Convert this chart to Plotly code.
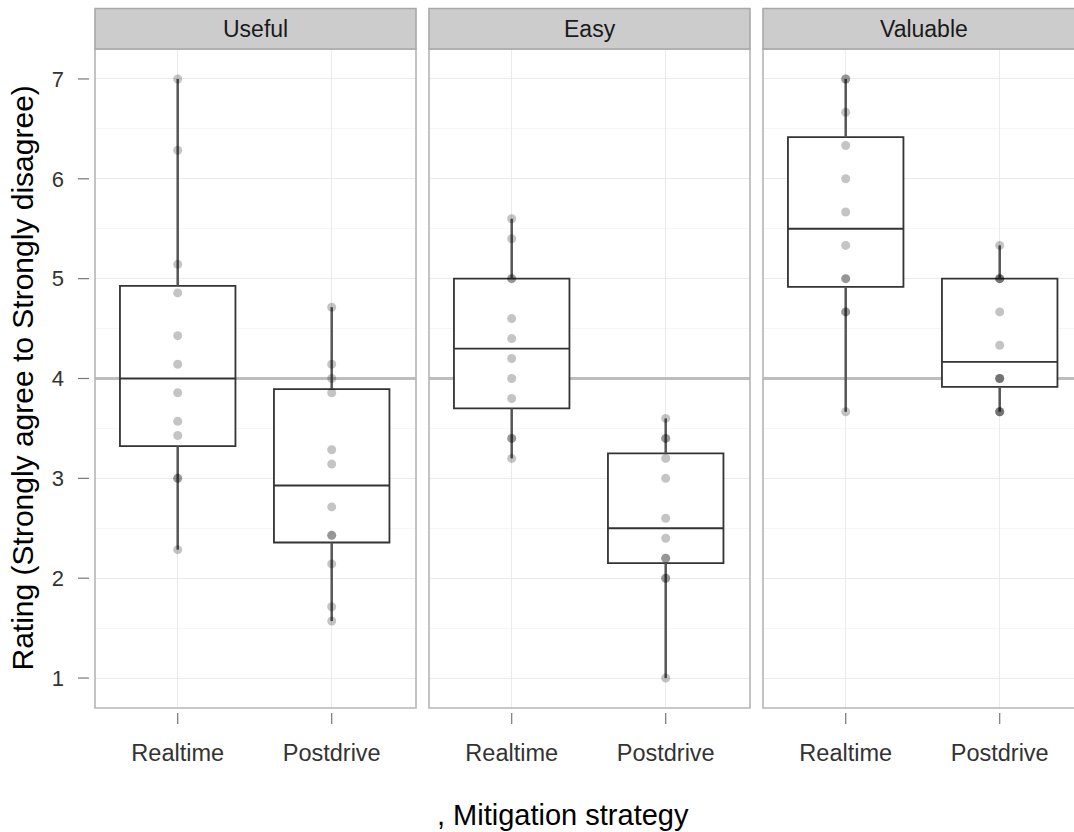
import numpy as np
import plotly.graph_objects as go

# Ratings per facet and mitigation strategy (1 = strongly agree ... 7 = strongly disagree)
facets = ["Useful", "Easy", "Valuable"]
strategies = ["Realtime", "Postdrive"]

useful_realtime = [7.0, 6.286, 5.143, 4.857, 4.429, 4.143, 3.857, 3.571, 3.429, 3.0, 3.0, 2.286]
useful_postdrive = [4.714, 4.143, 4.0, 3.857, 3.286, 3.143, 2.714, 2.429, 2.429, 2.143, 1.714, 1.571]
easy_realtime = [5.6, 5.4, 5.0, 5.0, 4.6, 4.4, 4.2, 4.0, 3.8, 3.4, 3.4, 3.2]
easy_postdrive = [3.6, 3.4, 3.4, 3.2, 3.0, 2.6, 2.4, 2.2, 2.2, 2.0, 2.0, 1.0]
valuable_realtime = [7.0, 7.0, 6.667, 6.333, 6.0, 5.667, 5.333, 5.0, 5.0, 4.667, 4.667, 3.667]
valuable_postdrive = [5.333, 5.0, 5.0, 5.0, 4.667, 4.333, 4.0, 4.0, 4.0, 3.667, 3.667, 3.667]

y_ticks = [1, 2, 3, 4, 5, 6, 7]
neutral_level = 4

y_title = "Rating (Strongly agree to Strongly disagree)"
x_title = ", Mitigation strategy"

ratings = {
    "Useful": {"Realtime": useful_realtime, "Postdrive": useful_postdrive},
    "Easy": {"Realtime": easy_realtime, "Postdrive": easy_postdrive},
    "Valuable": {"Realtime": valuable_realtime, "Postdrive": valuable_postdrive},
}

# ---- layout geometry (pixels) ----
W, H = 1074, 832
ML, MT, MB = 95, 49, 124
PLOT_W = W - ML
PLOT_H = H - MT - MB
PANEL_W = 321
panel_left = [95, 429, 763]
PX_PER_CAT = 154.0
LEFT_PAD = 82.7
Y_RANGE = [0.7, 7.3]

FONT = "Liberation Sans, Arial, Helvetica, sans-serif"
BOX_LINE = "#333333"
WHISKER = "#555555"
BORDER = "#b5b5b5"
GRID = "#ebebeb"
GRID_MINOR = "#f6f6f6"

positions = list(range(len(strategies)))  # discrete slots on each panel's x axis


def box_stats(values):
    v = np.sort(np.asarray(values, dtype=float))
    q1, med, q3 = np.percentile(v, [25, 50, 75])
    iqr = q3 - q1
    lo = v[v >= q1 - 1.5 * iqr].min()
    hi = v[v <= q3 + 1.5 * iqr].max()
    return q1, med, q3, lo, hi


fig = go.Figure()
shapes = []
annotations = []
n_f = len(facets)

for i, facet in enumerate(facets):
    n = "" if i == 0 else str(i + 1)
    xa, ya = "x" + n, "y" + n
    # overlay y axis: boxes and points sit in a layer above the reference line
    top_n = str(i + 1 + n_f)
    ya_top = "y" + top_n

    x0px = panel_left[i]
    x1px = min(x0px + PANEL_W, W)
    vis_w = x1px - x0px
    dom = [(x0px - ML) / PLOT_W, (x1px - ML) / PLOT_W]
    r0 = -LEFT_PAD / PX_PER_CAT
    r1 = (vis_w - LEFT_PAD) / PX_PER_CAT
    r_full = (PANEL_W - LEFT_PAD) / PX_PER_CAT
    full = PANEL_W / vis_w

    fig.update_layout(**{
        ("xaxis" + n): dict(
            domain=dom, range=[r0, r1], tickvals=positions, ticktext=strategies,
            showgrid=True, gridcolor=GRID, gridwidth=1,
            showline=False, zeroline=False, ticks="", anchor=ya,
            tickfont=dict(family=FONT, size=23.5, color="#333333"),
            ticklabelstandoff=28,
        ),
        ("yaxis" + n): dict(
            domain=[0, 1], range=Y_RANGE, tickvals=y_ticks,
            showgrid=True, gridcolor=GRID, gridwidth=1,
            minor=dict(dtick=0.5, showgrid=True, gridcolor=GRID_MINOR, gridwidth=1),
            showline=False, zeroline=False, ticks="", anchor=xa,
            showticklabels=(i == 0),
            tickfont=dict(family=FONT, size=22, color="#333333"),
            ticklabelstandoff=30,
        ),
        ("yaxis" + top_n): dict(
            overlaying=ya, anchor=xa, range=Y_RANGE, visible=False,
            showgrid=False, zeroline=False,
        ),
    })

    # neutral reference line across the whole panel, beneath the boxes
    fig.add_trace(go.Scatter(
        x=[r0, r_full], y=[neutral_level, neutral_level], xaxis=xa, yaxis=ya,
        mode="lines", line=dict(color="#bdbdbd", width=3),
        hoverinfo="skip", showlegend=False))

    for pos, s in zip(positions, strategies):
        vals = ratings[facet][s]
        q1, med, q3, lo, hi = box_stats(vals)
        # whiskers
        fig.add_trace(go.Scatter(
            x=[pos, pos, None, pos, pos], y=[lo, q1, None, q3, hi], xaxis=xa, yaxis=ya_top,
            mode="lines", line=dict(color=WHISKER, width=2.5),
            hoverinfo="skip", showlegend=False))
        # box
        fig.add_trace(go.Box(
            x=[pos], q1=[q1], median=[med], q3=[q3], lowerfence=[q1], upperfence=[q3],
            width=0.75, xaxis=xa, yaxis=ya_top, fillcolor="white",
            line=dict(color=BOX_LINE, width=1.8), boxpoints=False,
            hoverinfo="skip", showlegend=False))
        # individual ratings
        fig.add_trace(go.Scatter(
            x=[pos] * len(vals), y=vals, xaxis=xa, yaxis=ya_top, mode="markers",
            marker=dict(size=9, color="rgba(0,0,0,0.23)", line=dict(width=0)),
            showlegend=False, hovertemplate=facet + " · " + s + ": %{y:.2f}<extra></extra>"))

        # x tick mark below the panel
        shapes.append(dict(type="line", xref=xa, yref=ya + " domain", x0=pos, x1=pos,
                           y0=-5 / PLOT_H, y1=-16 / PLOT_H,
                           line=dict(color="#777777", width=1.2)))

    # panel border (the last panel runs past the page edge)
    shapes.append(dict(type="rect", xref=xa + " domain", yref=ya + " domain",
                       x0=0, x1=full, y0=0, y1=1, line=dict(color=BORDER, width=1.6),
                       fillcolor="rgba(0,0,0,0)", layer="above"))
    # facet strip
    shapes.append(dict(type="rect", xref=xa + " domain", yref="paper",
                       x0=0, x1=full, y0=1.0, y1=1 + (MT - 8.5) / PLOT_H,
                       line=dict(color="#a8a8a8", width=1.6), fillcolor="#cccccc",
                       layer="above"))
    annotations.append(dict(text=facet, xref=xa + " domain", yref="paper",
                            x=full / 2, y=1 + (MT - 29) / PLOT_H, showarrow=False,
                            font=dict(family=FONT, size=23, color="#1a1a1a"),
                            xanchor="center", yanchor="middle"))

# y tick marks on the left of the first panel
for t in y_ticks:
    shapes.append(dict(type="line", xref="x domain", yref="y",
                       x0=-17 / PANEL_W, x1=-6 / PANEL_W, y0=t, y1=t,
                       line=dict(color="#777777", width=1.2)))

annotations.append(dict(text=y_title, xref="paper", yref="paper",
                        x=(22 - ML) / PLOT_W, y=0.5, textangle=-90, showarrow=False,
                        font=dict(family=FONT, size=30, color="black"),
                        xanchor="center", yanchor="middle"))
annotations.append(dict(text=x_title, xref="paper", yref="paper",
                        x=(563 - ML) / PLOT_W, y=-(815 - (H - MB)) / PLOT_H, showarrow=False,
                        font=dict(family=FONT, size=29, color="black"),
                        xanchor="center", yanchor="middle"))

fig.update_layout(
    width=W, height=H,
    margin=dict(l=ML, r=0, t=MT, b=MB, pad=0),
    paper_bgcolor="white", plot_bgcolor="white",
    shapes=shapes, annotations=annotations,
    showlegend=False,
)

fig.write_html("out.html")
